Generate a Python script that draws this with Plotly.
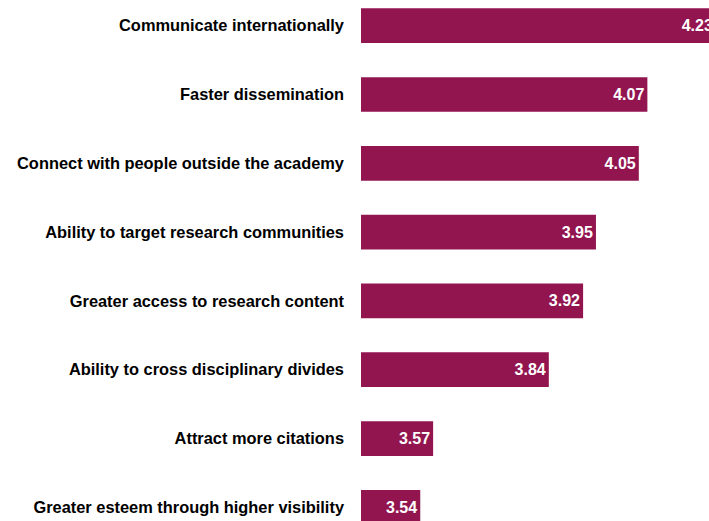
import plotly.graph_objects as go

categories = [
    "Communicate internationally",
    "Faster dissemination",
    "Connect with people outside the academy",
    "Ability to target research communities",
    "Greater access to research content",
    "Ability to cross disciplinary divides",
    "Attract more citations",
    "Greater esteem through higher visibility",
]
values = [4.23, 4.07, 4.05, 3.95, 3.92, 3.84, 3.57, 3.54]
value_labels = ["4.23", "4.07", "4.05", "3.95", "3.92", "3.84", "3.57", "3.54"]

fig = go.Figure(
    go.Bar(
        x=values,
        y=categories,
        orientation="h",
        marker=dict(color="#92154F", line=dict(width=0)),
        width=0.505,
        text=value_labels,
        textposition="inside",
        insidetextanchor="end",
        textfont=dict(color="white", size=16, family="Liberation Sans", weight="bold"),
        cliponaxis=True,
        hoverinfo="skip",
    )
)

fig.update_layout(
    width=709,
    height=521,
    margin=dict(l=361, r=0, t=0, b=0),
    paper_bgcolor="white",
    plot_bgcolor="white",
    showlegend=False,
    font=dict(family="Liberation Sans", size=16, color="black"),
)
fig.update_xaxes(
    range=[3.4017, 4.2138],
    visible=False,
    showgrid=False,
    zeroline=False,
)
fig.update_yaxes(
    type="category",
    categoryorder="array",
    categoryarray=categories,
    range=[7.199, -0.3735],
    showgrid=False,
    zeroline=False,
    showline=False,
    ticks="",
    ticklabelstandoff=16,
    tickfont=dict(family="Liberation Sans", size=16.4, color="black", weight="bold"),
)

fig.write_html(
    "out.html",
    config={"displayModeBar": False},
    post_script="document.body.style.margin='0';document.body.style.overflow='hidden';",
)
